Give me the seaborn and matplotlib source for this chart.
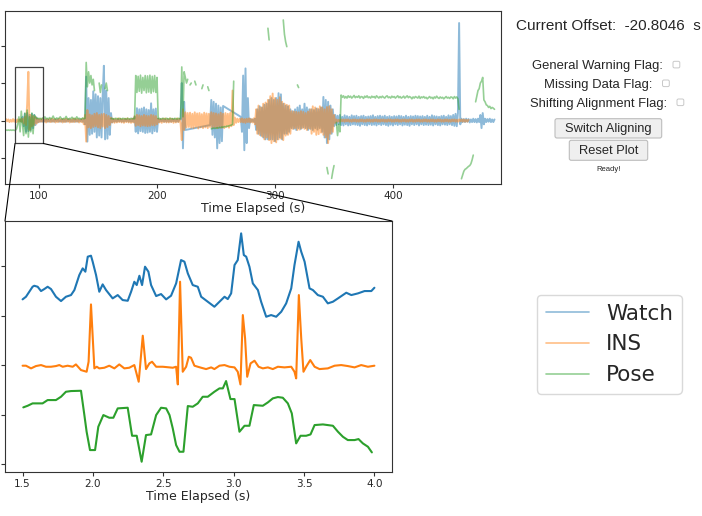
import numpy as np
import pandas as pd
import matplotlib
matplotlib.use("Agg")
import matplotlib.pyplot as plt
import seaborn as sns
from matplotlib.patches import Rectangle, FancyBboxPatch, ConnectionPatch
from matplotlib.lines import Line2D

N = np.nan

# ---------------- data ----------------
series_names = ["Watch", "INS", "Pose"]
series_colors = ["#1f77b4", "#ff7f0e", "#2ca02c"]

# overview: one sample per second starting at t = 70 s
overview_start = 70
watch_overview = [
    N, N, N, N, N, N, N, N, N, N,                                   # 70
    N, N, N, N, 0.02, -0.03, 0.1, -0.15, 0.18, -0.3,                # 80
    0.2, -0.28, 0.15, -0.25, 0.18, -0.2, 0.15, -0.12, 0.08, -0.05,  # 90
    0.03, -0.03, 0.02, -0.03, 0.03, -0.02, 0.03, -0.03, 0.02, -0.03,  # 100
    0.03, -0.03, 0.02, -0.03, 0.03, -0.02, 0.03, -0.03, 0.02, -0.03,  # 110
    0.03, -0.03, 0.02, -0.03, 0.03, -0.02, 0.03, -0.03, 0.02, -0.03,  # 120
    0.03, -0.03, 0.02, -0.03, 0.03, -0.02, 0.03, -0.03, 0.03, -0.1,   # 130
    1.17, -0.56, 0.6, -0.38, 0.55, -0.35, 0.78, -0.3, 0.7, -0.45,     # 140
    0.65, -0.4, 0.6, -0.45, 0.7, 1.46, -0.5, 0.8, -0.48, 0.6,         # 150
    -0.38, 0.2, -0.05, 0.03, -0.03, 0.02, -0.03, 0.03, -0.02, 0.03,   # 160
    -0.03, 0.02, -0.03, 0.03, -0.02, 0.03, -0.03, 0.02, -0.03, 0.03,  # 170
    -0.03, 0.1, -0.3, 0.33, -0.34, 0.3, -0.28, 0.32, -0.3, 0.35,      # 180
    -0.33, 0.3, -0.32, 0.28, -0.3, 0.46, -0.34, 0.3, -0.28, 0.32,     # 190
    -0.3, 0.05, -0.03, 0.03, -0.02, 0.03, -0.03, 0.02, -0.03, 0.03,   # 200
    -0.03, 0.02, -0.03, 0.03, -0.02, 0.03, -0.03, 0.02, -0.03, 0.03,  # 210
    0.03, 1.0, -0.74, 0.5, -0.25, N, N, N, N, N,                      # 220
    N, N, N, N, N, N, N, N, N, N,                                     # 230
    N, N, N, N, N, -0.12, 0.55, -0.38, 0.5, -0.45,                    # 240
    0.45, -0.74, 0.4, -0.6, 0.35, -0.55, 0.39, N, N, N,               # 250
    N, N, N, N, N, N, N, N, N, N,                                     # 260
    N, 0.1, -0.3, 1.2, -0.79, 1.39, -0.6, 0.6, -0.2, 0.05,            # 270
    -0.03, 0.03, -0.03, 0.05, -0.25, 0.3, -0.35, 0.38, -0.4, 0.35,    # 280
    -0.45, 0.42, -0.5, 0.45, -0.5, 0.55, -0.5, 0.6, -0.5, 0.55,       # 290
    -0.55, 0.6, -0.5, 0.73, -0.45, 0.7, -0.5, 0.45, -0.35, 0.4,       # 300
    -0.35, 0.38, -0.3, 0.3, -0.2, 0.25, -0.22, 0.3, -0.25, 0.35,      # 310
    -0.2, 0.4, -0.22, 0.3, -0.18, 0.45, -0.2, 0.35, -0.25, 0.3,       # 320
    -0.22, 0.3, -0.25, 0.28, -0.2, 0.32, -0.24, 0.3, -0.2, 0.35,      # 330
    -0.3, 0.63, -0.45, 0.55, -0.6, 0.5, -0.5, 0.4, -0.35, 0.3,        # 340
    -0.15, 0.15, -0.12, 0.13, -0.1, 0.15, -0.12, 0.1, -0.13, 0.14,    # 350
    -0.1, 0.12, -0.13, 0.1, -0.12, 0.14, -0.1, 0.12, -0.11, 0.13,     # 360
    -0.12, 0.1, -0.14, 0.12, -0.1, 0.13, -0.12, 0.1, -0.13, 0.11,     # 370
    -0.1, 0.12, -0.12, 0.14, -0.11, 0.1, -0.13, 0.12, -0.1, 0.13,     # 380
    -0.12, 0.11, -0.1, 0.13, -0.12, 0.1, -0.14, 0.12, -0.11, 0.1,     # 390
    -0.13, 0.12, -0.1, 0.11, -0.12, 0.13, -0.1, 0.12, -0.13, 0.1,     # 400
    -0.11, 0.13, -0.12, 0.1, -0.14, 0.12, -0.1, 0.11, -0.12, 0.13,    # 410
    -0.1, 0.12, -0.13, 0.11, -0.1, 0.12, -0.12, 0.1, -0.11, 0.13,     # 420
    -0.12, 0.1, -0.11, 0.14, -0.13, 0.12, -0.1, 0.11, -0.12, 0.1,     # 430
    -0.13, 0.12, -0.1, 0.13, -0.11, 0.1, -0.12, 0.14, -0.1, 0.12,     # 440
    -0.12, 0.15, -0.14, 0.18, -0.15, 0.2, 2.6, -0.1, 0.05, -0.04,     # 450
    0.04, -0.04, 0.05, -0.03, 0.04, -0.05, 0.03, -0.04, 0.05, -0.04,  # 460
    0.04, -0.05, 0.05, -0.04, 0.15, -0.2, 0.2, -0.1, 0.05, -0.04,     # 470
    0.04, -0.03, 0.05, -0.04, 0.03, -0.04, 0.03,                      # 480
]
ins_overview = [
    0.03, -0.03, 0.04, -0.02, 0.03, -0.04, 0.02, -0.03, 0.04, -0.03,  # 70
    0.03, -0.04, 0.03, -0.03, 0.04, -0.03, 0.05, -0.08, 0.1, -0.12,   # 80
    0.45, 1.3, -0.25, 0.15, -0.15, 0.12, -0.12, 0.1, -0.08, 0.05,     # 90
    -0.04, 0.04, -0.03, 0.05, -0.04, 0.03, -0.05, 0.04, -0.03, 0.04,  # 100
    -0.04, 0.05, -0.03, 0.04, -0.05, 0.03, -0.04, 0.05, -0.03, 0.04,  # 110
    -0.05, 0.04, -0.04, 0.05, -0.03, 0.04, -0.05, 0.03, -0.04, 0.05,  # 120
    -0.04, 0.05, -0.03, 0.04, -0.05, 0.03, -0.04, 0.05, -0.1, 0.15,   # 130
    -0.56, 0.28, -0.18, 0.16, -0.2, 0.14, -0.17, 0.18, -0.15, 0.2,    # 140
    -0.18, 0.15, -0.2, 0.17, -0.16, 0.18, -0.2, 0.15, -0.17, 0.12,    # 150
    -0.12, 0.08, -0.05, 0.05, -0.06, 0.04, -0.05, 0.06, -0.04, 0.05,  # 160
    -0.05, 0.04, -0.06, 0.05, -0.04, 0.06, -0.05, 0.04, -0.06, 0.05,  # 170
    -0.05, 0.12, -0.14, 0.15, -0.12, 0.14, -0.15, 0.12, -0.13, 0.15,  # 180
    -0.14, 0.13, -0.15, 0.12, -0.14, 0.15, -0.12, 0.14, -0.13, 0.12,  # 190
    -0.1, 0.05, -0.05, 0.04, -0.06, 0.05, -0.04, 0.06, -0.05, 0.04,   # 200
    -0.05, 0.06, -0.04, 0.05, -0.06, 0.04, -0.05, 0.06, -0.04, 0.05,  # 210
    -0.08, -0.52, 0.3, -0.25, 0.22, -0.18, 0.2, -0.17, 0.21, -0.19,   # 220
    0.18, -0.2, 0.22, -0.17, 0.19, -0.21, 0.2, -0.18, 0.17, -0.2,     # 230
    0.21, -0.18, 0.19, -0.2, 0.18, -0.17, 0.22, -0.19, 0.2, -0.18,    # 240
    0.19, -0.2, 0.17, -0.18, 0.21, -0.19, 0.18, -0.2, 0.2, -0.17,     # 250
    0.18, -0.19, 0.2, -0.15, 0.8, -0.12, 0.08, -0.06, 0.05, -0.04,    # 260
    0.05, -0.04, 0.06, -0.05, 0.04, -0.06, 0.05, -0.04, 0.06, -0.05,  # 270
    0.04, -0.05, 0.06, -0.1, 0.3, -0.35, 0.4, -0.38, 0.35, -0.42,     # 280
    0.45, -0.5, 0.48, -0.45, 0.55, -0.52, 0.65, -0.6, 0.72, -0.55,    # 290
    0.6, -0.58, 0.55, -0.5, 0.62, -0.48, 0.5, -0.52, 0.45, -0.4,      # 300
    0.42, -0.38, 0.4, -0.35, 0.25, -0.22, 0.24, -0.2, 0.23, -0.25,    # 310
    0.22, -0.24, 0.25, -0.2, 0.23, -0.22, 0.2, -0.25, 0.24, -0.21,    # 320
    0.3, -0.35, 0.38, -0.3, 0.35, -0.38, 0.32, -0.36, 0.38, -0.32,    # 330
    0.35, -0.38, 0.3, -0.45, 0.36, -0.6, 0.38, -0.35, 0.3, -0.3,      # 340
    0.15, -0.06, 0.03, -0.03, 0.02, -0.03, 0.03, -0.02, 0.03, -0.03,  # 350
    0.03, -0.02, 0.03, -0.03, 0.02, -0.03, 0.03, -0.02, 0.03, -0.03,  # 360
    0.02, -0.03, 0.03, -0.02, 0.03, -0.03, 0.02, -0.03, 0.03, -0.02,  # 370
    0.03, -0.03, 0.02, -0.03, 0.03, -0.02, 0.03, -0.03, 0.02, -0.03,  # 380
    0.03, -0.02, 0.03, -0.03, 0.02, -0.03, 0.03, -0.02, 0.03, -0.03,  # 390
    0.02, -0.03, 0.03, -0.02, 0.03, -0.03, 0.02, -0.03, 0.03, -0.02,  # 400
    0.03, -0.03, 0.02, -0.03, 0.03, -0.02, 0.03, -0.03, 0.02, -0.03,  # 410
    0.03, -0.02, 0.03, -0.03, 0.02, -0.03, 0.03, -0.02, 0.03, -0.03,  # 420
    0.02, -0.03, 0.03, -0.02, 0.03, -0.03, 0.02, -0.03, 0.03, -0.02,  # 430
    0.03, -0.03, 0.02, -0.03, 0.03, -0.02, 0.03, -0.03, 0.02, -0.03,  # 440
    0.03, -0.02, 0.03, -0.03, 0.02, -0.03, 0.03, -0.02, 0.03, -0.03,  # 450
    0.03, -0.03, 0.02, -0.03, 0.02, N, N, N, N, N,                    # 460
    N, N, N, N, N, N, N, N, N, N,                                     # 470
    N, N, N, N, N, N, N,                                              # 480
]
pose_overview = [
    -0.25, -0.26, -0.25, -0.26, -0.25, -0.26, -0.25, -0.26, -0.25, -0.26,  # 70
    -0.26, -0.22, -0.1, 0.1, -0.3, 0.25, -0.1, -0.4, 0.2, -0.35,           # 80
    0.28, -0.44, 0.1, -0.3, 0.2, -0.35, 0.15, 0.1, 0.05, 0.06,             # 90
    0.05, 0.06, 0.04, 0.07, 0.05, 0.1, 0.05, 0.06, 0.04, 0.08,             # 100
    0.05, 0.06, 0.12, 0.05, 0.04, 0.07, 0.05, 0.06, 0.1, 0.05,             # 110
    0.04, 0.06, 0.05, 0.11, 0.05, 0.04, 0.06, 0.05, 0.09, 0.05,            # 120
    0.06, 0.04, 0.1, 0.05, 0.06, 0.05, 0.04, 0.07, 0.05, 0.06,             # 130
    1.55, 0.9, 1.3, 1.0, 1.2, 0.95, 1.1, 0.8, N, N,                        # 140
    N, 1.0, 0.75, 0.95, N, N, 0.85, 1.0, 0.8, N,                           # 150
    N, 0.05, 0.06, 0.04, 0.05, 0.06, 0.05, 0.04, 0.06, 0.05,               # 160
    0.04, 0.06, 0.05, 0.05, 0.04, 0.06, 0.05, 0.04, 0.06, 0.05,            # 170
    0.05, 0.05, 1.2, 0.75, 1.18, 0.78, 1.21, 0.73, 1.15, 0.8,              # 180
    1.2, 0.74, 1.19, 0.76, 1.21, 0.73, 1.18, 0.77, 1.2, 0.75,              # 190
    1.15, 0.05, 0.06, 0.04, 0.05, 0.06, 0.05, 0.04, 0.06, 0.05,            # 200
    0.04, 0.06, 0.05, 0.05, 0.04, 0.06, 0.05, 0.04, 0.06, 0.05,            # 210
    0.05, 1.43, 0.1, 1.3, 1.15, 1.0, 1.1, N, 0.95, 1.0,                    # 220
    N, N, 1.05, 0.95, N, N, 1.0, N, 0.85, 0.95,                            # 230
    N, N, N, 0.9, 0.8, N, -0.22, -0.21, -0.2, -0.21,                       # 240
    -0.2, -0.19, -0.2, -0.18, -0.19, -0.17, -0.18, -0.16, -0.17, -0.15,    # 250
    -0.15, -0.14, -0.13, -0.12, -0.1, 1.05, N, N, N, N,                    # 260
    N, N, N, N, N, N, N, N, N, N,                                          # 270
    N, N, N, N, N, N, N, N, N, N,                                          # 280
    N, N, N, N, 2.46, 2.15, N, N, N, N,                                    # 290
    N, N, N, N, N, N, N, 2.68, 2.3, 2.1,                                   # 300
    1.97, N, N, N, N, N, N, N, N, 0.95,                                    # 310
    0.88, N, N, N, N, N, N, N, N, N,                                       # 320
    N, N, N, N, N, N, N, N, N, N,                                          # 330
    N, N, N, N, -1.25, -1.42, N, N, -1.54, -1.35,                          # 340
    -1.2, N, -0.05, -0.4, -0.1, -0.3, 0.68, 0.62, 0.66, 0.6,               # 350
    0.64, 0.6, 0.66, 0.62, 0.65, 0.6, 0.63, 0.67, 0.61, 0.64,              # 360
    0.62, 0.66, 0.6, 0.64, 0.63, 0.59, 0.65, 0.62, 0.66, 0.61,             # 370
    0.63, 0.6, 0.65, 0.62, 0.64, 0.6, 0.66, 0.63, 0.6, 0.64,               # 380
    0.61, 0.65, 0.62, 0.6, 0.64, 0.66, 0.61, 0.63, 0.6, 0.65,              # 390
    0.62, 0.64, 0.6, 0.63, 0.66, 0.61, 0.64, 0.6, 0.62, 0.65,              # 400
    0.6, 0.63, 0.66, 0.61, 0.64, 0.62, 0.58, 0.63, 0.6, 0.64,              # 410
    0.62, 0.6, 0.65, 0.59, 0.63, 0.61, 0.64, 0.6, 0.62, 0.58,              # 420
    0.61, 0.64, 0.6, 0.62, 0.58, 0.63, 0.6, 0.65, 0.61, 0.59,              # 430
    0.63, 0.6, 0.62, 0.58, 0.61, 0.64, 0.6, 0.62, 0.59, 0.63,              # 440
    0.62, 0.58, 0.64, 0.6, 0.63, 0.58, 0.3, N, -1.55, -1.45,               # 450
    -1.35, -1.3, -1.28, -1.25, -1.22, -1.2, -1.15, -1.05, -0.92, N,        # 460
    0.5, 0.65, 0.8, 0.85, 1.0, 1.05, 1.15, 0.55, 0.5, 0.42,                # 470
    0.4, 0.35, 0.38, 0.32, 0.35, 0.33, 0.3,                                # 480
]

# zoomed detail (seconds, arbitrary offset units)
watch_t = [1.500, 1.524, 1.571, 1.583, 1.607, 1.631, 1.654, 1.678, 1.702, 1.737,
           1.773, 1.808, 1.844, 1.868, 1.903, 1.927, 1.946, 1.963, 1.986, 1.998,
           2.022, 2.045, 2.069, 2.093, 2.140, 2.176, 2.211, 2.247, 2.271, 2.294,
           2.311, 2.330, 2.349, 2.370, 2.394, 2.413, 2.449, 2.484, 2.520, 2.555,
           2.591, 2.626, 2.650, 2.674, 2.709, 2.745, 2.769, 2.816, 2.863, 2.899,
           2.935, 2.958, 2.982, 3.006, 3.029, 3.053, 3.072, 3.089, 3.112, 3.136,
           3.172, 3.195, 3.231, 3.266, 3.302, 3.338, 3.373, 3.409, 3.432, 3.461,
           3.480, 3.504, 3.539, 3.563, 3.598, 3.634, 3.669, 3.705, 3.741, 3.800,
           3.836, 3.883, 3.930, 3.978, 4.000]
watch_v = [1.327, 1.380, 1.582, 1.602, 1.582, 1.495, 1.535, 1.582, 1.535, 1.380,
           1.293, 1.380, 1.414, 1.515, 1.818, 1.953, 1.886, 2.189, 2.209, 2.088,
           1.818, 1.481, 1.630, 1.515, 1.347, 1.414, 1.313, 1.299, 1.481, 1.683,
           1.616, 1.804, 1.616, 1.987, 1.886, 1.616, 1.394, 1.434, 1.327, 1.401,
           1.650, 2.121, 2.088, 1.852, 1.616, 1.582, 1.380, 1.279, 1.178, 1.279,
           1.380, 1.333, 1.448, 2.020, 2.121, 2.660, 2.222, 2.189, 1.986, 1.650,
           1.515, 1.279, 0.976, 1.010, 0.976, 1.077, 1.246, 1.549, 2.020, 2.491,
           2.289, 2.088, 1.549, 1.515, 1.414, 1.380, 1.246, 1.279, 1.347, 1.461,
           1.414, 1.448, 1.495, 1.495, 1.562]
ins_t = [1.500, 1.524, 1.560, 1.595, 1.631, 1.666, 1.702, 1.737, 1.761, 1.785,
         1.820, 1.856, 1.879, 1.915, 1.955, 1.969, 1.986, 2.010, 2.027, 2.045,
         2.081, 2.116, 2.152, 2.187, 2.223, 2.258, 2.294, 2.325, 2.354, 2.377,
         2.401, 2.420, 2.449, 2.496, 2.544, 2.567, 2.591, 2.603, 2.619, 2.638,
         2.662, 2.681, 2.697, 2.721, 2.745,
         2.769, 2.804, 2.840, 2.863, 2.899, 2.935, 2.970, 3.006, 3.029, 3.048,
         3.065, 3.081, 3.096, 3.120, 3.148, 3.177, 3.207, 3.243, 3.278, 3.314,
         3.361, 3.409, 3.432, 3.444, 3.463, 3.480, 3.496, 3.515, 3.544, 3.575,
         3.610, 3.669, 3.717, 3.764, 3.811, 3.859, 3.906, 3.954, 4.000]
ins_v = [-0.013, -0.013, -0.067, -0.020, 0.0, -0.034, -0.034, -0.020, 0.0, -0.034,
         -0.013, -0.034, 0.013, -0.101, -0.135, 0.067, 1.225, -0.067, -0.034, -0.067,
         -0.054, -0.013, -0.067, 0.013, -0.067, -0.054, 0.0, -0.337, 0.593, -0.081,
         0.034, 0.067, -0.034, -0.034, -0.047, -0.054, -0.034, -0.391, 1.684, -0.135,
         -0.034, 0.168, 0.148, -0.013, -0.034,
         -0.054, -0.081, -0.047, -0.081, -0.013, 0.0, -0.034, -0.047, -0.135, -0.391,
         1.010, 0.539, -0.236, 0.034, 0.088, -0.034, -0.067, -0.047, -0.081, -0.034,
         -0.047, -0.034, -0.135, -0.269, 1.414, 0.539, -0.135, -0.034, 0.101, -0.034,
         -0.081, -0.067, -0.013, 0.0, -0.020, -0.047, 0.0, -0.034, -0.013]
pose_t = [1.505, 1.536, 1.571, 1.642, 1.678, 1.737, 1.773, 1.808, 1.844, 1.915,
          1.939, 1.955, 1.979, 2.015, 2.038, 2.074, 2.116, 2.145, 2.176, 2.247,
          2.278, 2.311, 2.346, 2.377, 2.413, 2.449, 2.484, 2.520, 2.544, 2.567,
          2.591, 2.615, 2.643, 2.674, 2.709, 2.745,
          2.780, 2.816, 2.863, 2.899, 2.923, 2.946, 2.977, 3.006, 3.041, 3.077,
          3.112, 3.143, 3.207, 3.243, 3.278, 3.314, 3.349, 3.385, 3.413, 3.444,
          3.475, 3.515, 3.546, 3.575, 3.634, 3.705, 3.741, 3.776, 3.811, 3.859,
          3.887, 3.918, 3.954, 3.982]
pose_v = [-0.855, -0.822, -0.774, -0.774, -0.707, -0.707, -0.640, -0.539, -0.525, -0.519,
          -1.010, -1.347, -1.717, -1.717, -1.246, -1.010, -1.064, -1.064, -0.875, -0.862,
          -1.428, -1.428, -1.953, -1.414, -1.401, -1.010, -0.862, -0.875, -1.010, -1.279,
          -1.616, -1.751, -1.751, -0.828, -0.842, -0.774,
          -0.640, -0.640, -0.539, -0.471, -0.471, -0.323, -0.687, -0.687, -1.347, -1.226,
          -1.226, -0.808, -0.822, -0.754, -0.673, -0.646, -0.660, -0.774, -0.976, -1.582,
          -1.428, -1.428, -1.401, -1.212, -1.199, -1.226, -1.347, -1.448, -1.515, -1.515,
          -1.495, -1.582, -1.650, -1.764]

overview_xticks = [100, 200, 300, 400]
detail_xticks = [1.5, 2.0, 2.5, 3.0, 3.5, 4.0]
zoom_window = (79.7, 103.6, -0.61, 1.43)   # t0, t1, v0, v1 of the highlighted box

offset_text = "Current Offset:  -20.8046  s"
flag_labels = ["General Warning Flag:", "Missing Data Flag:", "Shifting Alignment Flag:"]
button_labels = ["Switch Aligning", "Reset Plot"]
status_text = "Ready!"

# ---------------- figure ----------------
sns.set_style("ticks")
plt.rcParams["font.family"] = ["DejaVu Sans"]

W, H = 702, 516
fig = plt.figure(figsize=(W / 100, H / 100), dpi=100)


def px_axes(x0, y0, x1, y1, **kw):
    return fig.add_axes([x0 / W, 1 - y1 / H, (x1 - x0) / W, (y1 - y0) / H], **kw)


ax_top = px_axes(5, 11, 501, 184)
ax_bot = px_axes(5, 221, 392, 472)


def draw(ax, t, v, color, alpha, lw, break_gaps):
    df = pd.DataFrame({"t": np.asarray(t, float), "v": np.asarray(v, float)})
    df["seg"] = df["v"].isna().cumsum() if break_gaps else 0
    df = df.dropna()
    sns.lineplot(data=df, x="t", y="v", units="seg", estimator=None, sort=False,
                 color=color, alpha=alpha, linewidth=lw, ax=ax)


t_over = lambda arr: overview_start + np.arange(len(arr))
draw(ax_top, t_over(watch_overview), watch_overview, series_colors[0], 0.5, 1.4, False)
draw(ax_top, t_over(ins_overview), ins_overview, series_colors[1], 0.5, 1.4, False)
draw(ax_top, t_over(pose_overview), pose_overview, series_colors[2], 0.5, 1.2, True)

draw(ax_bot, watch_t, watch_v, series_colors[0], 1.0, 1.5, False)
draw(ax_bot, ins_t, ins_v, series_colors[1], 1.0, 1.5, False)
draw(ax_bot, pose_t, pose_v, series_colors[2], 1.0, 1.5, False)

for ax in (ax_top, ax_bot):
    for s in ax.spines.values():
        s.set_color("0.2")
        s.set_linewidth(0.8)
    ax.tick_params(axis="both", direction="out", length=3, width=0.8,
                   color="0.2", labelsize=7.5, pad=2, labelleft=False)
    ax.set_ylabel("")
    ax.set_xlabel("Time Elapsed (s)", fontsize=9, labelpad=1)

ax_top.set_xlim(71.2, 491.5)
ax_top.set_ylim(-1.69, 2.92)
ax_top.set_xticks(overview_xticks)
ax_top.set_yticks([-1, 0, 1, 2])

ax_bot.set_xlim(1.375, 4.125)
ax_bot.set_ylim(-2.16, 2.91)
ax_bot.set_xticks(detail_xticks)
ax_bot.set_xticklabels([f"{v:.1f}" for v in detail_xticks])
ax_bot.set_yticks([-2, -1, 0, 1, 2])

# zoom indicator
t0, t1, v0, v1 = zoom_window
ax_top.add_patch(Rectangle((t0, v0), t1 - t0, v1 - v0, fill=False,
                           edgecolor="0.25", linewidth=0.9, zorder=5))
for xa, xb in ((t0, 0), (t1, 1)):
    con = ConnectionPatch(xyA=(xa, v0), coordsA=ax_top.transData,
                          xyB=(xb, 1), coordsB=ax_bot.transAxes,
                          color="black", linewidth=0.8)
    fig.add_artist(con)

# legend
handles = [Line2D([], [], color=c, alpha=0.5, linewidth=1.2) for c in series_colors]
fig.legend(handles, series_names, loc="upper left",
           bbox_to_anchor=(537 / W, 1 - 295 / H), borderaxespad=0,
           fontsize=15.5, frameon=True, framealpha=1, edgecolor="0.85")

# control panel (plain figure overlay, pixel coordinates)
ui = fig.add_axes([0, 0, 1, 1], zorder=-1)
ui.set_xlim(0, W)
ui.set_ylim(H, 0)
ui.axis("off")
ui_font = "Liberation Sans"

ui.text(516, 30.5, offset_text, fontsize=11, family=ui_font, ha="left", va="baseline")

flag_rows = [(663, 69.3), (652.5, 88), (667, 107)]
for label, (xr, yb) in zip(flag_labels, flag_rows):
    ui.text(xr, yb, label, fontsize=9.35, family=ui_font, ha="right", va="baseline")
    ui.add_patch(FancyBboxPatch((xr + 10, yb - 8), 6.8, 6.6,
                                boxstyle="round,pad=0,rounding_size=1.5",
                                fc="white", ec="#c8c8c8", lw=0.7))

button_boxes = [(555, 118.7, 661.7, 138), (569.3, 140.3, 647.7, 160.3)]
for label, (x0, y0, x1, y1) in zip(button_labels, button_boxes):
    ui.add_patch(FancyBboxPatch((x0, y0), x1 - x0, y1 - y0,
                                boxstyle="round,pad=0,rounding_size=2",
                                fc="#efefef", ec="#bdbdbd", lw=0.8))
    ui.text((x0 + x1) / 2, (y0 + y1) / 2 + 0.5, label, fontsize=9.3, family=ui_font,
            ha="center", va="center")

ui.text(608.5, 169.3, status_text, fontsize=5.5, family=ui_font, ha="center", va="center")

fig.savefig("out.png", dpi=100)
